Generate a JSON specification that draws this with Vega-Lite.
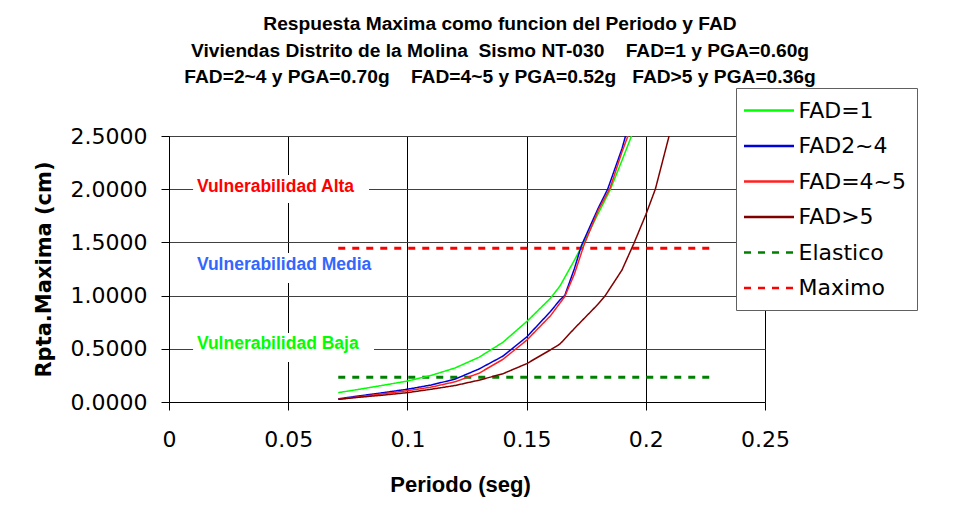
{
  "$schema": "https://vega.github.io/schema/vega-lite/v6.json",
  "width": 596,
  "height": 266,
  "autosize": {"type": "none"},
  "padding": {"left": 169, "top": 136, "right": 201, "bottom": 121},
  "background": "white",
  "config": {"view": {"stroke": null}},
  "title": {
    "text": [
      "Respuesta Maxima como funcion del Periodo y FAD",
      "Viviendas Distrito de la Molina\u00a0 Sismo NT-030\u00a0\u00a0\u00a0 FAD=1 y PGA=0.60g",
      "FAD=2~4 y PGA=0.70g\u00a0\u00a0\u00a0 FAD=4~5 y PGA=0.52g\u00a0\u00a0 FAD>5 y PGA=0.36g"
    ],
    "font": "Liberation Sans",
    "fontSize": 19.2,
    "fontWeight": "bold",
    "lineHeight": 26.5,
    "anchor": "middle",
    "frame": "group",
    "dx": 33,
    "offset": 0,
    "color": "black"
  },
  "datasets": {
    "curves": [
      {"s": "FAD=1", "x": 0.071, "y": 0.088}, {"s": "FAD=1", "x": 0.08, "y": 0.12}, {"s": "FAD=1", "x": 0.09, "y": 0.158}, {"s": "FAD=1", "x": 0.1, "y": 0.197}, {"s": "FAD=1", "x": 0.11, "y": 0.25}, {"s": "FAD=1", "x": 0.12, "y": 0.32}, {"s": "FAD=1", "x": 0.13, "y": 0.42}, {"s": "FAD=1", "x": 0.14, "y": 0.56}, {"s": "FAD=1", "x": 0.15, "y": 0.755}, {"s": "FAD=1", "x": 0.16, "y": 0.975}, {"s": "FAD=1", "x": 0.164, "y": 1.09}, {"s": "FAD=1", "x": 0.17, "y": 1.33}, {"s": "FAD=1", "x": 0.174, "y": 1.5}, {"s": "FAD=1", "x": 0.18, "y": 1.77}, {"s": "FAD=1", "x": 0.185, "y": 1.99}, {"s": "FAD=1", "x": 0.19, "y": 2.27}, {"s": "FAD=1", "x": 0.194, "y": 2.5}, {"s": "FAD=1", "x": 0.2, "y": 2.9},
      {"s": "FAD2~4", "x": 0.071, "y": 0.03}, {"s": "FAD2~4", "x": 0.08, "y": 0.058}, {"s": "FAD2~4", "x": 0.09, "y": 0.088}, {"s": "FAD2~4", "x": 0.1, "y": 0.12}, {"s": "FAD2~4", "x": 0.11, "y": 0.16}, {"s": "FAD2~4", "x": 0.12, "y": 0.215}, {"s": "FAD2~4", "x": 0.13, "y": 0.31}, {"s": "FAD2~4", "x": 0.14, "y": 0.43}, {"s": "FAD2~4", "x": 0.15, "y": 0.61}, {"s": "FAD2~4", "x": 0.16, "y": 0.85}, {"s": "FAD2~4", "x": 0.164, "y": 0.96}, {"s": "FAD2~4", "x": 0.166, "y": 1.0}, {"s": "FAD2~4", "x": 0.17, "y": 1.25}, {"s": "FAD2~4", "x": 0.173, "y": 1.47}, {"s": "FAD2~4", "x": 0.18, "y": 1.82}, {"s": "FAD2~4", "x": 0.184, "y": 2.0}, {"s": "FAD2~4", "x": 0.19, "y": 2.38}, {"s": "FAD2~4", "x": 0.1915, "y": 2.5}, {"s": "FAD2~4", "x": 0.195, "y": 2.75},
      {"s": "FAD=4~5", "x": 0.071, "y": 0.025}, {"s": "FAD=4~5", "x": 0.08, "y": 0.05}, {"s": "FAD=4~5", "x": 0.09, "y": 0.078}, {"s": "FAD=4~5", "x": 0.1, "y": 0.106}, {"s": "FAD=4~5", "x": 0.11, "y": 0.14}, {"s": "FAD=4~5", "x": 0.12, "y": 0.19}, {"s": "FAD=4~5", "x": 0.13, "y": 0.27}, {"s": "FAD=4~5", "x": 0.14, "y": 0.4}, {"s": "FAD=4~5", "x": 0.15, "y": 0.58}, {"s": "FAD=4~5", "x": 0.16, "y": 0.81}, {"s": "FAD=4~5", "x": 0.164, "y": 0.93}, {"s": "FAD=4~5", "x": 0.166, "y": 0.99}, {"s": "FAD=4~5", "x": 0.17, "y": 1.2}, {"s": "FAD=4~5", "x": 0.174, "y": 1.47}, {"s": "FAD=4~5", "x": 0.18, "y": 1.8}, {"s": "FAD=4~5", "x": 0.185, "y": 2.01}, {"s": "FAD=4~5", "x": 0.19, "y": 2.35}, {"s": "FAD=4~5", "x": 0.1925, "y": 2.5}, {"s": "FAD=4~5", "x": 0.196, "y": 2.75},
      {"s": "FAD>5", "x": 0.071, "y": 0.025}, {"s": "FAD>5", "x": 0.08, "y": 0.045}, {"s": "FAD>5", "x": 0.09, "y": 0.065}, {"s": "FAD>5", "x": 0.1, "y": 0.088}, {"s": "FAD>5", "x": 0.11, "y": 0.12}, {"s": "FAD>5", "x": 0.12, "y": 0.155}, {"s": "FAD>5", "x": 0.13, "y": 0.205}, {"s": "FAD>5", "x": 0.14, "y": 0.265}, {"s": "FAD>5", "x": 0.15, "y": 0.36}, {"s": "FAD>5", "x": 0.16, "y": 0.49}, {"s": "FAD>5", "x": 0.164, "y": 0.545}, {"s": "FAD>5", "x": 0.17, "y": 0.69}, {"s": "FAD>5", "x": 0.18, "y": 0.92}, {"s": "FAD>5", "x": 0.183, "y": 1.0}, {"s": "FAD>5", "x": 0.19, "y": 1.24}, {"s": "FAD>5", "x": 0.195, "y": 1.49}, {"s": "FAD>5", "x": 0.2, "y": 1.76}, {"s": "FAD>5", "x": 0.204, "y": 2.0}, {"s": "FAD>5", "x": 0.21, "y": 2.52}, {"s": "FAD>5", "x": 0.215, "y": 2.95},
      {"s": "Elastico", "x": 0.071, "y": 0.232}, {"s": "Elastico", "x": 0.229, "y": 0.232},
      {"s": "Maximo", "x": 0.071, "y": 1.445}, {"s": "Maximo", "x": 0.229, "y": 1.445}
    ],
    "notes": [
      {"k": "Alta", "t": "Vulnerabilidad Alta", "x": 0.0117, "y": 2.02, "x0": 0.0101, "x1": 0.0839, "y0": 1.87, "y1": 2.133},
      {"k": "Media", "t": "Vulnerabilidad Media", "x": 0.0117, "y": 1.288, "x0": 0.0101, "x1": 0.0893, "y0": 1.118, "y1": 1.4},
      {"k": "Baja", "t": "Vulnerabilidad Baja", "x": 0.0117, "y": 0.545, "x0": 0.0101, "x1": 0.086, "y0": 0.376, "y1": 0.648}
    ]
  },
  "layer": [
    {
      "data": {"name": "notes"},
      "mark": {"type": "rect", "color": "white"},
      "encoding": {
        "x": {"field": "x0", "type": "quantitative", "scale": {"domain": [0, 0.25], "nice": false, "zero": false},
          "axis": {"title": "Periodo (seg)", "values": [0, 0.05, 0.1, 0.15, 0.2, 0.25], "format": "~g", "titleFont": "Liberation Sans", "titleFontSize": 22, "titleFontWeight": "bold", "titleColor": "black", "titlePadding": 24, "titleX": 291, "labelFont": "DejaVu Sans", "labelFontSize": 22, "labelColor": "black", "labelPadding": 19, "labelFlush": false, "labelOverlap": false, "tickSize": 8, "tickColor": "black", "domainColor": "black", "gridColor": "black", "gridWidth": 1}},
        "x2": {"field": "x1"},
        "y": {"field": "y0", "type": "quantitative", "scale": {"domain": [0, 2.5], "nice": false},
          "axis": {"title": "Rpta.Maxima (cm)", "values": [0, 0.5, 1, 1.5, 2, 2.5], "format": ".4f", "titleFont": "DejaVu Sans", "titleFontSize": 21, "titleFontWeight": "bold", "titleColor": "black", "titlePadding": 16, "labelFont": "DejaVu Sans", "labelFontSize": 22, "labelColor": "black", "labelPadding": 14, "labelFlush": false, "labelOverlap": false, "tickSize": 8, "tickColor": "black", "domainColor": "black", "gridColor": "#404040", "gridWidth": 1}},
        "y2": {"field": "y1"}
      }
    },
    {
      "data": {"name": "notes"},
      "transform": [{"filter": "datum.k === 'Alta'"}],
      "mark": {"type": "text", "font": "Liberation Sans", "fontWeight": "bold", "fontSize": 17.5, "align": "left", "baseline": "middle", "color": "#FF0000"},
      "encoding": {
        "x": {"field": "x", "type": "quantitative"},
        "y": {"field": "y", "type": "quantitative"},
        "text": {"field": "t"}
      }
    },
    {
      "data": {"name": "notes"},
      "transform": [{"filter": "datum.k === 'Media'"}],
      "mark": {"type": "text", "font": "Liberation Sans", "fontWeight": "bold", "fontSize": 17.5, "align": "left", "baseline": "middle", "color": "#3366FF"},
      "encoding": {
        "x": {"field": "x", "type": "quantitative"},
        "y": {"field": "y", "type": "quantitative"},
        "text": {"field": "t"}
      }
    },
    {
      "data": {"name": "notes"},
      "transform": [{"filter": "datum.k === 'Baja'"}],
      "mark": {"type": "text", "font": "Liberation Sans", "fontWeight": "bold", "fontSize": 17.5, "align": "left", "baseline": "middle", "color": "#00FF00"},
      "encoding": {
        "x": {"field": "x", "type": "quantitative"},
        "y": {"field": "y", "type": "quantitative"},
        "text": {"field": "t"}
      }
    },
    {
      "data": {"name": "curves"},
      "transform": [{"filter": "datum.s === 'Elastico' || datum.s === 'Maximo'"}],
      "mark": {"type": "line", "strokeWidth": 3, "clip": true},
      "encoding": {
        "x": {"field": "x", "type": "quantitative"},
        "y": {"field": "y", "type": "quantitative"},
        "color": {"field": "s", "type": "nominal",
          "scale": {"domain": ["FAD=1", "FAD2~4", "FAD=4~5", "FAD>5", "Elastico", "Maximo"], "range": ["#00FF00", "#0000DD", "#FF2020", "#800000", "#008000", "#FF0000"]},
          "legend": {"title": null, "orient": "none", "legendX": 567, "legendY": -48, "fillColor": "white", "strokeColor": "#606060", "padding": 11, "symbolType": "M-2.5,0H2.5", "symbolSize": 400, "symbolStrokeWidth": 2.5, "symbolOffset": 10.5, "labelOffset": 18, "labelFont": "DejaVu Sans", "labelFontSize": 22, "labelColor": "black", "rowPadding": 12.5, "labelLimit": 300}},
        "strokeDash": {"field": "s", "type": "nominal",
          "scale": {"domain": ["FAD=1", "FAD2~4", "FAD=4~5", "FAD>5", "Elastico", "Maximo"], "range": [[1, 0], [1, 0], [1, 0], [1, 0], [7, 7], [7, 7]]},
          "legend": {"title": null, "orient": "none", "legendX": 567, "legendY": -48, "fillColor": "white", "strokeColor": "#606060", "padding": 11, "symbolType": "M-2.5,0H2.5", "symbolSize": 400, "symbolStrokeWidth": 2.5, "symbolOffset": 10.5, "labelOffset": 18, "labelFont": "DejaVu Sans", "labelFontSize": 22, "labelColor": "black", "rowPadding": 12.5, "labelLimit": 300}}
      }
    },
    {
      "data": {"name": "curves"},
      "transform": [{"filter": "datum.s !== 'Elastico' && datum.s !== 'Maximo'"}],
      "mark": {"type": "line", "strokeWidth": 1.5, "clip": true},
      "encoding": {
        "x": {"field": "x", "type": "quantitative"},
        "y": {"field": "y", "type": "quantitative"},
        "color": {"field": "s", "type": "nominal"},
        "strokeDash": {"field": "s", "type": "nominal"}
      }
    }
  ]
}
